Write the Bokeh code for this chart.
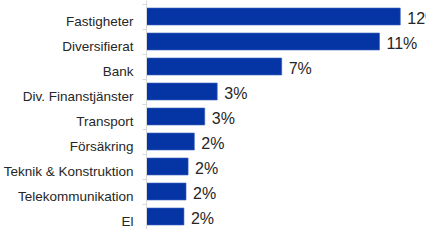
from bokeh.plotting import figure
from bokeh.models import ColumnDataSource, Range1d, FixedTicker, LinearAxis
from bokeh.embed import file_html
from bokeh.resources import INLINE
from bokeh.core.properties import value

categories = ["Fastigheter", "Diversifierat", "Bank", "Div. Finanstjänster", "Transport",
              "Försäkring", "Teknik & Konstruktion", "Telekommunikation", "El"]
shares = [12.2, 11.2, 6.5, 3.4, 2.8, 2.3, 2.0, 1.9, 1.8]
share_labels = ["12%", "11%", "7%", "3%", "3%", "2%", "2%", "2%", "2%"]

pos = list(range(len(categories)))
SHIFT = 0.2  # bars sit slightly above their category label
bar_y = [k - SHIFT for k in pos]
src = ColumnDataSource(dict(y=bar_y, v=shares, lab=share_labels))

FONT = "Liberation Sans"
TXT = "#262626"
BLUE = "#0535a5"
GRAY = "#d9d9d9"

p = figure(width=426, height=229, output_backend="svg", toolbar_location=None,
           x_range=Range1d(0, 13.46), y_range=Range1d(8.32, -0.84),
           x_axis_location=None, y_axis_location=None,
           min_border_left=140, min_border_right=0, min_border_top=0, min_border_bottom=0)
p.outline_line_color = None
p.grid.grid_line_color = None
p.background_fill_color = "white"
p.border_fill_color = "white"

ax = LinearAxis(ticker=FixedTicker(ticks=pos,
                                   minor_ticks=[k - SHIFT - 0.5 for k in range(len(pos) + 1)]),
                axis_line_color=GRAY, axis_line_width=1,
                minor_tick_line_color=GRAY, minor_tick_out=4, minor_tick_in=0,
                major_tick_out=0, major_tick_in=0, major_tick_line_color=None,
                major_label_overrides={k: c for k, c in zip(pos, categories)},
                major_label_standoff=9,
                major_label_text_font=FONT, major_label_text_font_size="13.5px",
                major_label_text_color=TXT)
p.add_layout(ax, "left")

p.hbar(y="y", right="v", left=0, height=0.68, source=src,
       fill_color=BLUE, line_color="#3d62bd", line_width=0.6)

p.text(x="v", y="y", text="lab", source=src, x_offset=7, y_offset=2,
       text_font=value(FONT), text_font_size="16px", text_color=TXT,
       text_baseline="middle", text_align="left")

open("out.html", "w").write(file_html(p, INLINE))
